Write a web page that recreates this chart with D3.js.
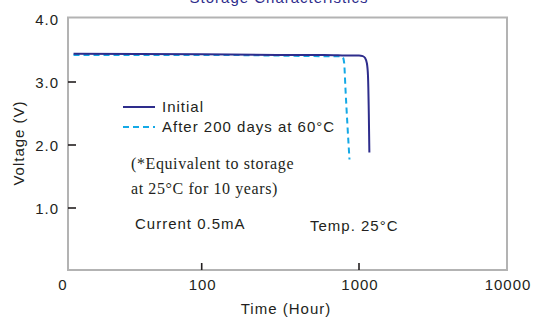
<!DOCTYPE html>
<html>
<head>
<meta charset="utf-8">
<script src="https://cdn.jsdelivr.net/npm/d3@7"></script>
<style>
  html, body { margin: 0; padding: 0; background: #fff; }
  svg { display: block; }
  .sans { font-family: "Liberation Sans", Arial, Helvetica, sans-serif; font-size: 15px; letter-spacing: 1px; fill: #231f20; }
  .serif { font-family: "Liberation Serif", "Times New Roman", serif; font-size: 16px; letter-spacing: 0.6px; fill: #231f20; }
</style>
</head>
<body>
<svg id="chart" width="543" height="320"></svg>
<script>
// Time axis: log decades, the first one labelled "0"
const timeTicks = [10, 100, 1000, 10000];
const timeTickLabels = ["0", "100", "1000", "10000"];
const voltTicks = [1, 2, 3, 4];
const voltTickLabels = ["1.0", "2.0", "3.0", "4.0"];

// Discharge curves at 0.5 mA, 25 °C
const initialHours = [11, 100, 300, 600, 900, 1000, 1060, 1100, 1130, 1150, 1165, 1175];
const initialVolts = [3.45, 3.44, 3.43, 3.43, 3.42, 3.42, 3.41, 3.38, 3.3, 3.1, 2.5, 1.88];

const storedHours = [11, 100, 300, 600, 760, 790, 805, 820, 845, 870];
const storedVolts = [3.43, 3.43, 3.42, 3.41, 3.41, 3.39, 3.3, 2.9, 2.3, 1.77];

const seriesNames = ["Initial", "After 200 days at 60°C"];
const seriesColors = ["#2e2d8c", "#14a9e6"];

const svg = d3.select("#chart");
const plotLeft = 68, plotRight = 507, plotTop = 17.5, plotBottom = 270;

// piecewise-linear over log10(hours): decades are not equally wide on this sheet
const xLog = d3.scaleLinear().domain([1, 2, 3, 4]).range([plotLeft, 201.7, 359, plotRight]);
const x = t => xLog(Math.log10(t));
const y = d3.scaleLinear().domain([0, 4]).range([271, 19]);

// title (partly above the canvas)
svg.append("text").attr("class", "sans")
  .attr("x", 279).attr("y", 3).attr("text-anchor", "middle")
  .style("fill", "#2e2d8c").text("Storage Characteristics");

// frame
svg.append("rect")
  .attr("x", plotLeft).attr("y", plotTop)
  .attr("width", plotRight - plotLeft).attr("height", plotBottom - plotTop)
  .attr("fill", "none").attr("stroke", "#b3b3b3").attr("stroke-width", 2);

// inner ticks
svg.selectAll("line.xt").data(timeTicks.slice(1, 3)).join("line")
  .attr("x1", d => x(d)).attr("x2", d => x(d))
  .attr("y1", plotBottom - 7).attr("y2", plotBottom)
  .attr("stroke", "#231f20").attr("stroke-width", 1.6);
svg.selectAll("line.yt").data(voltTicks.slice(0, 3)).join("line")
  .attr("x1", plotLeft).attr("x2", plotLeft + 8)
  .attr("y1", d => y(d)).attr("y2", d => y(d))
  .attr("stroke", "#231f20").attr("stroke-width", 1.6);

// tick labels
svg.selectAll("text.xl").data(timeTicks).join("text")
  .attr("class", "sans").attr("text-anchor", "middle")
  .attr("x", (d, i) => i === 0 ? x(d) - 5 : x(d) + 1)
  .attr("y", 290)
  .text((d, i) => timeTickLabels[i]);
svg.selectAll("text.yl").data(voltTicks).join("text")
  .attr("class", "sans").attr("text-anchor", "end")
  .attr("x", 59).attr("y", d => y(d) + 5.5)
  .text((d, i) => voltTickLabels[i]);

// axis titles
svg.append("text").attr("class", "sans").attr("text-anchor", "middle")
  .attr("x", 286).attr("y", 314).text("Time (Hour)");
svg.append("text").attr("class", "sans").attr("text-anchor", "middle")
  .attr("transform", "translate(24,143) rotate(-90)").text("Voltage (V)");

// curves
const line = d3.line().x(d => x(d[0])).y(d => y(d[1])).curve(d3.curveMonotoneX);
svg.append("path")
  .attr("d", line(d3.zip(storedHours, storedVolts)))
  .attr("fill", "none").attr("stroke", seriesColors[1]).attr("stroke-width", 2)
  .attr("stroke-dasharray", "6,4");
svg.append("path")
  .attr("d", line(d3.zip(initialHours, initialVolts)))
  .attr("fill", "none").attr("stroke", seriesColors[0]).attr("stroke-width", 2);

// legend
const legend = svg.append("g");
seriesNames.forEach((name, i) => {
  const ly = 107 + i * 20;
  legend.append("line")
    .attr("x1", 123).attr("x2", 155).attr("y1", ly).attr("y2", ly)
    .attr("stroke", seriesColors[i]).attr("stroke-width", 2)
    .attr("stroke-dasharray", i === 1 ? "6,4" : null);
  legend.append("text").attr("class", "sans")
    .attr("x", 162).attr("y", ly + 4.5).text(name);
});

// notes
svg.append("text").attr("class", "serif").attr("x", 131).attr("y", 169)
  .text("(*Equivalent to storage");
svg.append("text").attr("class", "serif").attr("x", 131).attr("y", 194)
  .text("at 25°C for 10 years)");
svg.append("text").attr("class", "sans").attr("x", 135).attr("y", 229)
  .text("Current 0.5mA");
svg.append("text").attr("class", "sans").attr("x", 310).attr("y", 231)
  .text("Temp. 25°C");
</script>
</body>
</html>
